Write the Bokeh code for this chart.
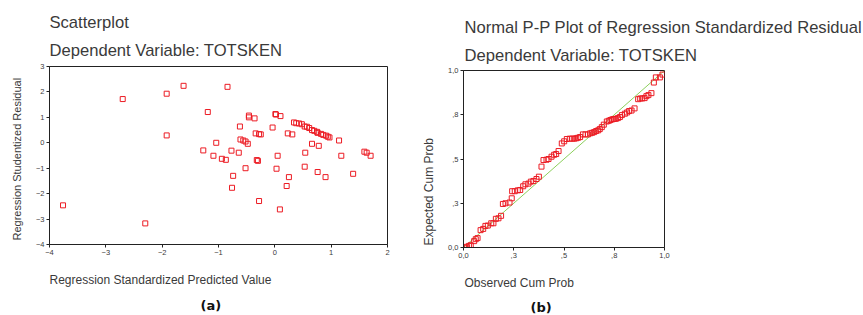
from bokeh.plotting import figure
from bokeh.layouts import row, column
from bokeh.models import Range1d, FixedTicker, Title
from bokeh.embed import file_html
from bokeh.resources import INLINE

# ---- Data: (a) scatterplot ----
pred_value = [-3.76, -2.70, -2.30, -1.92, -1.92, -1.62, -0.84, -1.19, -1.27, -1.09,
              -1.04, -0.94, -0.87, -0.77, -0.74, -0.76, -0.64, -0.62, -0.61, -0.56,
              -0.52, -0.48, -0.52, -0.46, -0.46, -0.36, -0.34, -0.28, -0.25, -0.32,
              -0.30, -0.28, -0.04, 0.01, 0.02, 0.10, 0.05, 0.03, 0.09, 0.23,
              0.31, 0.21, 0.25, 0.34, 0.38, 0.43, 0.48, 0.53, 0.57, 0.61,
              0.66, 0.70, 0.75, 0.76, 0.82, 0.86, 0.91, 0.94, 0.97, 0.54,
              0.53, 0.66, 0.78, 0.76, 0.90, 1.14, 1.18, 1.39, 1.59, 1.63, 1.70]
stud_resid = [-2.46, 1.72, -3.17, 1.93, 0.29, 2.24, 2.20, 1.21, -0.30, -0.51,
              0.00, -0.63, -0.67, -0.31, -1.30, -1.77, -0.39, 0.64, 0.13, 0.09,
              0.05, -0.04, -1.00, 1.07, 1.00, 0.96, 0.37, 0.34, 0.33, -0.68,
              -0.71, -2.29, 0.60, 1.13, 1.11, 1.05, -0.51, -1.02, -2.62, 0.37,
              0.33, -1.70, -1.35, 0.80, 0.77, 0.76, 0.73, 0.64, 0.63, 0.58,
              0.50, 0.47, 0.43, 0.39, 0.35, 0.31, 0.28, 0.24, 0.21, -0.39,
              -0.94, -0.04, -0.12, -1.15, -1.35, 0.09, -0.51, -1.22, -0.35, -0.39, -0.51]

# ---- Data: (b) normal P-P plot ----
observed_cum = [0.008, 0.017, 0.027, 0.036, 0.053, 0.061, 0.070, 0.085, 0.098, 0.109,
                0.121, 0.138, 0.149, 0.161, 0.174, 0.187, 0.196, 0.209, 0.229, 0.240,
                0.242, 0.255, 0.270, 0.282, 0.297, 0.308, 0.323, 0.335, 0.348, 0.363,
                0.375, 0.388, 0.398, 0.413, 0.423, 0.438, 0.451, 0.461, 0.473, 0.489,
                0.501, 0.514, 0.529, 0.541, 0.551, 0.561, 0.570, 0.580, 0.594, 0.607,
                0.619, 0.630, 0.640, 0.650, 0.660, 0.670, 0.678, 0.688, 0.698, 0.713,
                0.723, 0.731, 0.740, 0.748, 0.758, 0.768, 0.778, 0.788, 0.803, 0.814,
                0.824, 0.836, 0.851, 0.869, 0.879, 0.889, 0.901, 0.910, 0.920, 0.935,
                0.947, 0.957, 0.977, 0.990]
expected_cum = [0.000, 0.004, 0.009, 0.013, 0.036, 0.047, 0.053, 0.098, 0.105, 0.122,
                0.124, 0.137, 0.137, 0.162, 0.165, 0.179, 0.246, 0.250, 0.254, 0.278,
                0.318, 0.318, 0.323, 0.325, 0.346, 0.357, 0.361, 0.372, 0.376, 0.387,
                0.400, 0.457, 0.494, 0.496, 0.500, 0.513, 0.524, 0.528, 0.545, 0.588,
                0.600, 0.613, 0.615, 0.615, 0.615, 0.617, 0.620, 0.624, 0.639, 0.639,
                0.639, 0.645, 0.648, 0.652, 0.658, 0.662, 0.669, 0.680, 0.694, 0.712,
                0.716, 0.720, 0.724, 0.726, 0.727, 0.731, 0.737, 0.748, 0.756, 0.763,
                0.771, 0.774, 0.786, 0.838, 0.842, 0.842, 0.844, 0.855, 0.861, 0.872,
                0.932, 0.961, 0.961, 0.977]
diag_x = [0.0, 1.0]
diag_y = [0.0, 1.0]

scatter_xticks = [-4, -3, -2, -1, 0, 1, 2]
scatter_yticks = [-4, -3, -2, -1, 0, 1, 2, 3]
pp_ticks = [0.0, 0.25, 0.5, 0.75, 1.0]
pp_tick_labels = ["0,0", ",3", ",5", ",8", "1,0"]

FONT = "Liberation Sans"
TXT = "#3a3a3a"
RED = "#ec1c24"
GREEN = "#8ccf5c"
TSIZE = "16.6px"


def style(p):
    p.outline_line_color = "#222222"
    p.outline_line_width = 1
    p.xgrid.visible = False
    p.ygrid.visible = False
    p.background_fill_color = "white"
    p.border_fill_color = "white"
    for ax in (p.xaxis[0], p.yaxis[0]):
        ax.axis_line_color = "#222222"
        ax.major_tick_out = 3
        ax.major_tick_in = 0
        ax.minor_tick_line_color = None
        ax.major_tick_line_color = "#222222"
        ax.major_label_text_font = FONT
        ax.major_label_text_font_size = "7.5px"
        ax.major_label_text_color = TXT
        ax.major_label_standoff = 2


def title(p, text, side, size, align="left", offset=0, standoff=0, bold=False,
          font=FONT, color=TXT):
    t = Title(text=text, align=align, offset=offset, standoff=standoff,
              text_font=font, text_font_size=size, text_color=color,
              text_font_style="bold" if bold else "normal")
    p.add_layout(t, side)


def spacer(p, side, standoff):
    p.add_layout(Title(text=" ", text_font_size="1px", standoff=standoff), side)


def main_title(p, text, offset, standoff):
    p.title.text = text
    p.title.text_font = FONT
    p.title.text_font_size = TSIZE
    p.title.text_font_style = "normal"
    p.title.text_color = TXT
    p.title.standoff = standoff
    p.title.offset = offset


# ---- Left figure ----
p1 = figure(frame_width=338, frame_height=178,
            x_range=Range1d(-4, 2), y_range=Range1d(-4, 3),
            output_backend="svg", toolbar_location=None,
            min_border_left=49, min_border_right=23, min_border_top=66, min_border_bottom=71)
style(p1)
p1.xaxis.ticker = FixedTicker(ticks=scatter_xticks)
p1.yaxis.ticker = FixedTicker(ticks=scatter_yticks)
p1.scatter(pred_value, stud_resid, marker="square", size=5, fill_color=None,
           line_color=RED, line_width=1)
main_title(p1, "Scatterplot", 0, 10)
spacer(p1, "above", 2)
title(p1, "Dependent Variable: TOTSKEN", "above", TSIZE, standoff=4)
spacer(p1, "below", 3)
title(p1, "Regression Standardized Predicted Value", "below", "12px", standoff=15)
title(p1, "(a)", "below", "13px", offset=151, standoff=2, bold=True,
      font="DejaVu Sans", color="#111111")
spacer(p1, "left", 0)
title(p1, "Regression Studentized Residual", "left", "11px", align="left", offset=4,
      standoff=14)

# ---- Right figure ----
p2 = figure(frame_width=201, frame_height=177,
            x_range=Range1d(0, 1), y_range=Range1d(0, 1),
            output_backend="svg", toolbar_location=None,
            min_border_left=53, min_border_right=199, min_border_top=70, min_border_bottom=68)
style(p2)
p2.xaxis.ticker = FixedTicker(ticks=pp_ticks)
p2.yaxis.ticker = FixedTicker(ticks=pp_ticks)
p2.xaxis.major_label_overrides = dict(zip(pp_ticks, pp_tick_labels))
p2.yaxis.major_label_overrides = dict(zip(pp_ticks, pp_tick_labels))
p2.line(diag_x, diag_y, line_color=GREEN, line_width=1)
p2.scatter(observed_cum, expected_cum, marker="square", size=5, fill_color=None,
           line_color=RED, line_width=1)
main_title(p2, "Normal P-P Plot of Regression Standardized Residual", 1, 10)
spacer(p2, "above", 1)
title(p2, "Dependent Variable: TOTSKEN", "above", TSIZE, offset=1, standoff=4)
spacer(p2, "below", 3)
title(p2, "Observed Cum Prob", "below", "12px", offset=1, standoff=15)
title(p2, "(b)", "below", "13px", offset=67, standoff=0, bold=True,
      font="DejaVu Sans", color="#111111")
spacer(p2, "left", 0)
title(p2, "Expected Cum Prob", "left", "12px", align="left", offset=2, standoff=14)

layout = row(column(p1), column(p2), spacing=0)
open("out.html", "w").write(file_html(layout, INLINE))
